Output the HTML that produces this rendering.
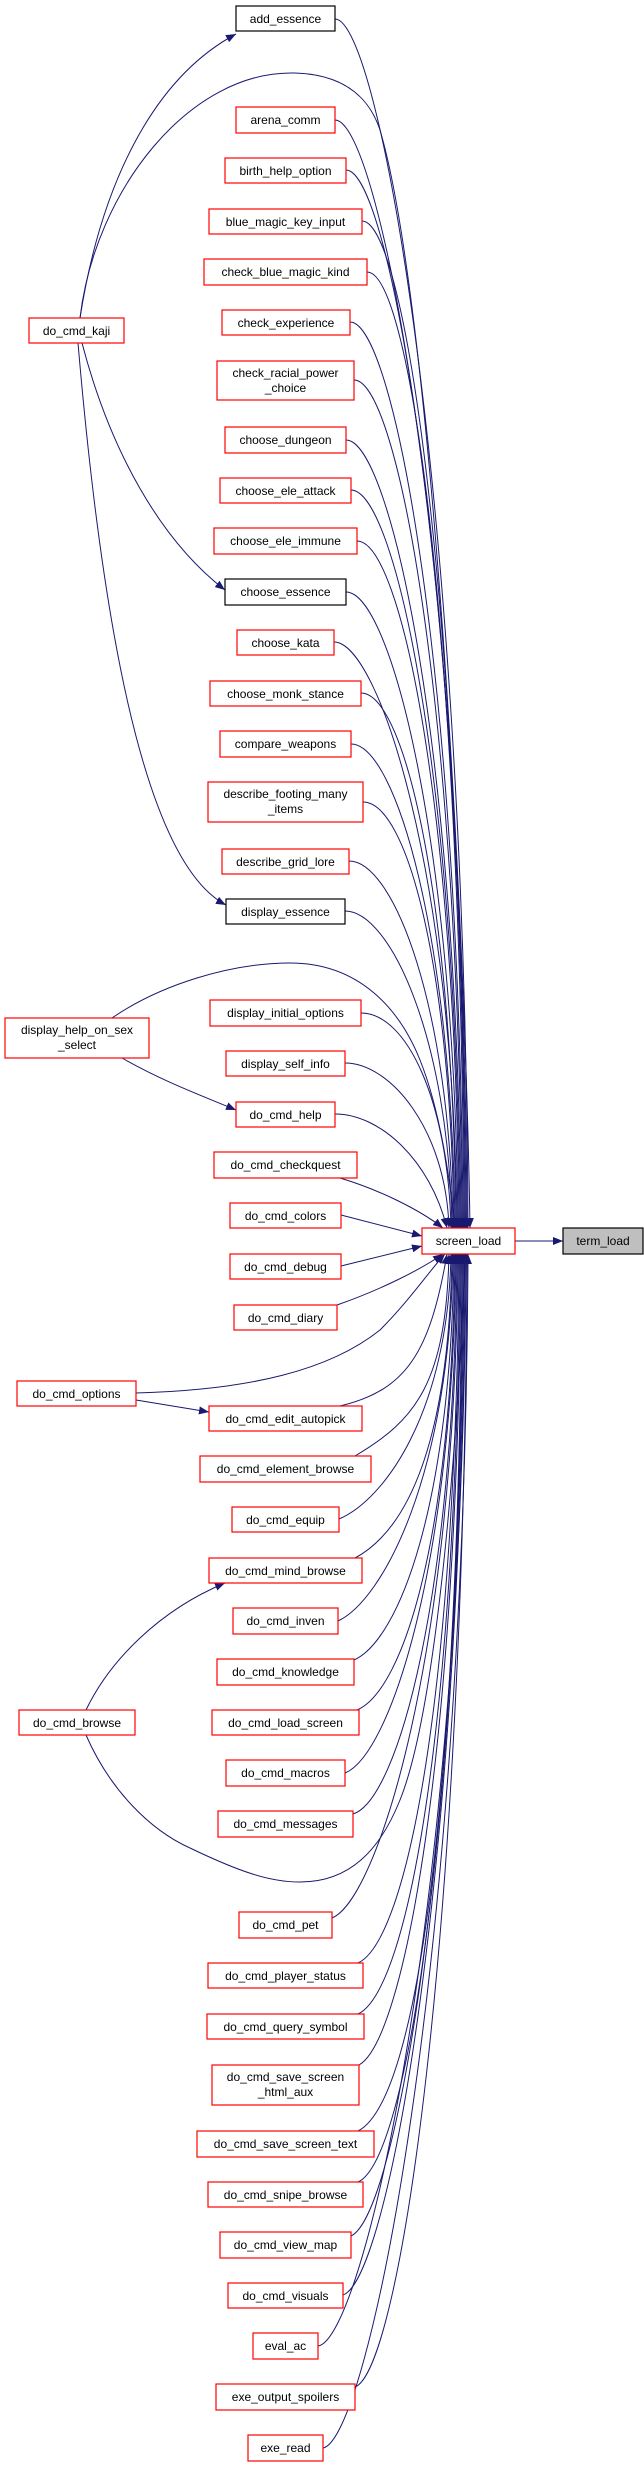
<!DOCTYPE html>
<html><head><meta charset="utf-8"><style>
html,body{margin:0;padding:0;background:#fff}
svg{display:block}
text{font-family:"Liberation Sans",Arial,sans-serif;font-size:12px;fill:#000;text-anchor:middle}
.r{fill:#fff;stroke:#ff0000;stroke-width:1.2}
.k{fill:#fff;stroke:#000;stroke-width:1.2}
.e{fill:none;stroke:#191970;stroke-width:1}
</style></head><body>
<svg width="644" height="2467" viewBox="0 0 644 2467" xmlns="http://www.w3.org/2000/svg">
<defs><marker id="a" markerWidth="10" markerHeight="8" refX="10" refY="4" orient="auto" markerUnits="userSpaceOnUse"><path d="M0,0 L10,4 L0,8 z" fill="#191970"/></marker></defs>
<g class="e" marker-end="url(#a)">
<path d="M335,19 C380,19 465,503 468,1228"/>
<path d="M335,120 C380,120 464,563 467,1228"/>
<path d="M346,170 C391,170 463,593 466,1228"/>
<path d="M362,221 C407,221 462,624 465,1228"/>
<path d="M367,272 C412,272 461,654 464,1228"/>
<path d="M350,322 C395,322 460,684 463,1228"/>
<path d="M354,380 C399,380 459,719 462,1228"/>
<path d="M346,440 C391,440 458,755 461,1228"/>
<path d="M351,490 C396,490 457,785 460,1228"/>
<path d="M357,541 C402,541 456,816 459,1228"/>
<path d="M346,592 C391,592 455,846 458,1228"/>
<path d="M334,642 C379,642 454,876 457,1228"/>
<path d="M361,693 C406,693 453,907 456,1228"/>
<path d="M351,744 C396,744 452,938 455,1228"/>
<path d="M363,802 C408,802 451,972 454,1228"/>
<path d="M349,861 C394,861 450,1008 453,1228"/>
<path d="M345,911 C390,911 449,1038 452,1228"/>
<path d="M361,1013 C406,1013 448,1099 451,1228"/>
<path d="M345,1063 C390,1063 446,1129 449,1228"/>
<path d="M335,1114 C380,1114 430,1160 447,1228"/>
<path d="M340,1178 C380,1190 420,1210 443,1228"/>
<path d="M341,1215 L422,1236"/>
<path d="M341,1266 L422,1246"/>
<path d="M337,1305 C380,1290 420,1270 443,1254"/>
<path d="M340,1406 C407,1390 430,1352 447,1254"/>
<path d="M355,1456 C416,1420 446,1383 449,1254"/>
<path d="M339,1519 C384,1500 448,1413 451,1254"/>
<path d="M355,1558 C407,1530 449,1444 452,1254"/>
<path d="M338,1621 C383,1600 450,1474 453,1254"/>
<path d="M354,1660 C399,1640 451,1505 454,1254"/>
<path d="M357,1710 C404,1690 452,1535 455,1254"/>
<path d="M345,1773 C390,1755 453,1565 456,1254"/>
<path d="M353,1814 C398,1800 454,1596 457,1254"/>
<path d="M332,1918 C377,1900 455,1657 458,1254"/>
<path d="M358,1963 C408,1940 456,1687 459,1254"/>
<path d="M358,2014 C409,1990 457,1717 460,1254"/>
<path d="M359,2065 C404,2040 458,1753 461,1254"/>
<path d="M358,2131 C419,2100 459,1787 462,1254"/>
<path d="M358,2182 C408,2160 460,1818 463,1254"/>
<path d="M351,2236 C396,2215 461,1849 464,1254"/>
<path d="M343,2295 C388,2280 462,1879 465,1254"/>
<path d="M318,2346 C363,2340 463,1909 466,1254"/>
<path d="M355,2387 C400,2370 464,1940 467,1254"/>
<path d="M323,2448 C368,2440 465,1970 468,1254"/>
<path d="M80,318 C100,190 150,80 236,34"/>
<path d="M80,318 C95,190 190,70 295,73 C360,75 375,115 380,130 C430,300 465,900 470,1228"/>
<path d="M82,343 C110,450 160,540 225,590"/>
<path d="M78,343 C100,600 140,860 226,905"/>
<path d="M112,1018 C160,985 230,963 290,963 C360,963 400,1010 420,1060 C440,1110 450,1180 455,1228"/>
<path d="M122,1058 C160,1080 200,1095 236,1110"/>
<path d="M136,1393 C250,1390 330,1370 380,1330 C410,1300 430,1270 445,1254"/>
<path d="M136,1400 L209,1412"/>
<path d="M86,1710 C110,1660 160,1610 225,1583"/>
<path d="M86,1735 C110,1790 150,1830 190,1848 C240,1872 270,1882 300,1882 C350,1882 380,1850 400,1800 C440,1700 460,1400 465,1254"/>
<path d="M515,1241 L563,1241"/>
</g>
<rect class="k" x="236" y="6" width="99" height="25"/><text x="285.5" y="23">add_essence</text>
<rect class="r" x="236" y="107" width="99" height="26"/><text x="285.5" y="124">arena_comm</text>
<rect class="r" x="225" y="158" width="121" height="25"/><text x="285.5" y="175">birth_help_option</text>
<rect class="r" x="209" y="209" width="153" height="25"/><text x="285.5" y="226">blue_magic_key_input</text>
<rect class="r" x="204" y="259" width="163" height="26"/><text x="285.5" y="276">check_blue_magic_kind</text>
<rect class="r" x="222" y="310" width="128" height="25"/><text x="286" y="327">check_experience</text>
<rect class="r" x="217" y="361" width="137" height="39"/><text x="285.5" y="377">check_racial_power</text><text x="285.5" y="392">_choice</text>
<rect class="r" x="225" y="427" width="121" height="26"/><text x="285.5" y="444">choose_dungeon</text>
<rect class="r" x="220" y="478" width="131" height="25"/><text x="285.5" y="495">choose_ele_attack</text>
<rect class="r" x="214" y="528" width="143" height="26"/><text x="285.5" y="545">choose_ele_immune</text>
<rect class="k" x="225" y="579" width="121" height="26"/><text x="285.5" y="596">choose_essence</text>
<rect class="r" x="237" y="630" width="97" height="25"/><text x="285.5" y="647">choose_kata</text>
<rect class="r" x="210" y="681" width="151" height="25"/><text x="285.5" y="698">choose_monk_stance</text>
<rect class="r" x="220" y="731" width="131" height="26"/><text x="285.5" y="748">compare_weapons</text>
<rect class="r" x="208" y="782" width="155" height="40"/><text x="285.5" y="798">describe_footing_many</text><text x="285.5" y="813">_items</text>
<rect class="r" x="222" y="849" width="127" height="25"/><text x="285.5" y="866">describe_grid_lore</text>
<rect class="k" x="226" y="899" width="119" height="25"/><text x="285.5" y="916">display_essence</text>
<rect class="r" x="210" y="1000" width="151" height="26"/><text x="285.5" y="1017">display_initial_options</text>
<rect class="r" x="226" y="1051" width="119" height="25"/><text x="285.5" y="1068">display_self_info</text>
<rect class="r" x="236" y="1102" width="99" height="25"/><text x="285.5" y="1119">do_cmd_help</text>
<rect class="r" x="214" y="1152" width="143" height="26"/><text x="285.5" y="1169">do_cmd_checkquest</text>
<rect class="r" x="230" y="1203" width="111" height="25"/><text x="285.5" y="1220">do_cmd_colors</text>
<rect class="r" x="230" y="1254" width="111" height="25"/><text x="285.5" y="1271">do_cmd_debug</text>
<rect class="r" x="234" y="1305" width="103" height="25"/><text x="285.5" y="1322">do_cmd_diary</text>
<rect class="r" x="209" y="1406" width="153" height="25"/><text x="285.5" y="1423">do_cmd_edit_autopick</text>
<rect class="r" x="200" y="1456" width="171" height="26"/><text x="285.5" y="1473">do_cmd_element_browse</text>
<rect class="r" x="232" y="1507" width="107" height="25"/><text x="285.5" y="1524">do_cmd_equip</text>
<rect class="r" x="209" y="1558" width="153" height="25"/><text x="285.5" y="1575">do_cmd_mind_browse</text>
<rect class="r" x="233" y="1608" width="105" height="26"/><text x="285.5" y="1625">do_cmd_inven</text>
<rect class="r" x="217" y="1659" width="137" height="26"/><text x="285.5" y="1676">do_cmd_knowledge</text>
<rect class="r" x="212" y="1710" width="147" height="25"/><text x="285.5" y="1727">do_cmd_load_screen</text>
<rect class="r" x="226" y="1760" width="119" height="26"/><text x="285.5" y="1777">do_cmd_macros</text>
<rect class="r" x="218" y="1811" width="135" height="26"/><text x="285.5" y="1828">do_cmd_messages</text>
<rect class="r" x="239" y="1912" width="93" height="26"/><text x="285.5" y="1929">do_cmd_pet</text>
<rect class="r" x="208" y="1963" width="155" height="25"/><text x="285.5" y="1980">do_cmd_player_status</text>
<rect class="r" x="207" y="2014" width="157" height="25"/><text x="285.5" y="2031">do_cmd_query_symbol</text>
<rect class="r" x="212" y="2065" width="147" height="40"/><text x="285.5" y="2081">do_cmd_save_screen</text><text x="285.5" y="2096">_html_aux</text>
<rect class="r" x="197" y="2131" width="177" height="26"/><text x="285.5" y="2148">do_cmd_save_screen_text</text>
<rect class="r" x="208" y="2182" width="155" height="25"/><text x="285.5" y="2199">do_cmd_snipe_browse</text>
<rect class="r" x="220" y="2232" width="131" height="26"/><text x="285.5" y="2249">do_cmd_view_map</text>
<rect class="r" x="228" y="2283" width="115" height="25"/><text x="285.5" y="2300">do_cmd_visuals</text>
<rect class="r" x="253" y="2333" width="65" height="26"/><text x="285.5" y="2350">eval_ac</text>
<rect class="r" x="216" y="2384" width="139" height="26"/><text x="285.5" y="2401">exe_output_spoilers</text>
<rect class="r" x="248" y="2435" width="75" height="26"/><text x="285.5" y="2452">exe_read</text>
<rect class="r" x="29" y="318" width="95" height="25"/><text x="76.5" y="335">do_cmd_kaji</text>
<rect class="r" x="5" y="1018" width="144" height="40"/><text x="77" y="1034">display_help_on_sex</text><text x="77" y="1049">_select</text>
<rect class="r" x="17" y="1381" width="119" height="25"/><text x="76.5" y="1398">do_cmd_options</text>
<rect class="r" x="19" y="1710" width="116" height="25"/><text x="77" y="1727">do_cmd_browse</text>
<rect class="r" x="422" y="1228" width="93" height="26"/><text x="468.5" y="1245">screen_load</text>
<rect x="563" y="1228" width="80" height="26" fill="#bfbfbf" stroke="#000" stroke-width="1.2"/><text x="603" y="1245">term_load</text>
</svg>
</body></html>
